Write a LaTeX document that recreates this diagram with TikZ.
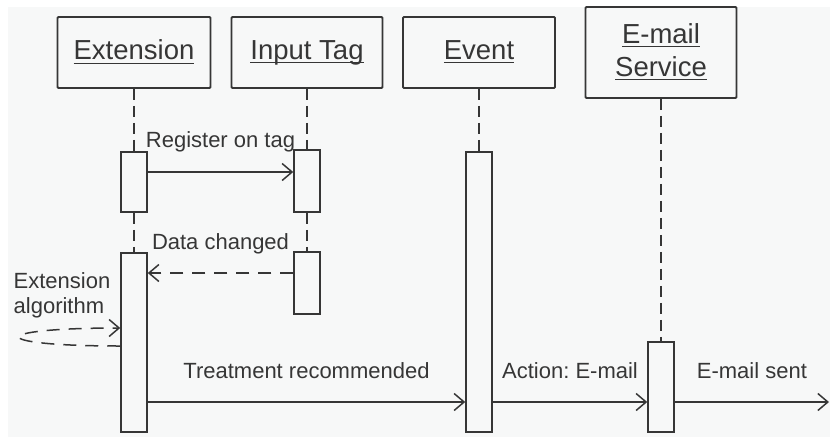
\documentclass[tikz,border=0pt]{standalone}
\usepackage{amsmath}
\usepackage{fontspec}
\setmainfont{Liberation Sans}
\usepackage{xcolor}
\usetikzlibrary{arrows.meta,calc}
\definecolor{ink}{HTML}{363636}
\definecolor{paper}{HTML}{F7F8F8}
\newcommand{\ulname}[1]{\underline{\smash[b]{#1}}}
\frenchspacing

\begin{document}
\begin{tikzpicture}[x=1pt,y=-1pt,
  every node/.style={text=ink},
  obj/.style={draw=ink,line width=1.8pt,rounded corners=1pt,minimum height=71pt,font=\fontsize{27.5}{33}\selectfont,align=center},
  bar/.style={draw=ink,line width=1.5pt,fill=paper,minimum width=26pt,inner sep=0pt},
  life/.style={ink,line width=1.8pt,dash pattern=on 11pt off 6pt},
  msg/.style={ink,line width=1.5pt,-{Straight Barb[length=10pt,width=17pt]}},
  reply/.style={msg,dash pattern=on 13pt off 9pt},
  lbl/.style={font=\fontsize{22}{25}\selectfont}]
\useasboundingbox (0,0) rectangle (830,437);
\fill[paper] (8,7) rectangle (830,437);
%----------------objects----------
\node[obj,minimum width=153pt] (ext) at (134,52.5) {\ulname{Extension}};
\node[obj,minimum width=151pt] (tag) at (307,52.5) {\ulname{Input Tag}};
\node[obj,minimum width=152pt] (evt) at (479,52.5) {\ulname{Event}};
\node[obj,minimum width=151pt,minimum height=91pt] (mail) at (661,52.5) {\ulname{E-mail}\\\ulname{Service}};
%----------------activations----------
\node[bar,minimum height=60pt] (extA) at (134,182) {};
\node[bar,minimum height=179pt] (extB) at (134,342.5) {};
\node[bar,minimum height=62pt] (tagA) at (307,181) {};
\node[bar,minimum height=62pt] (tagB) at (307,283) {};
\node[bar,minimum height=280pt] (evtA) at (479,292) {};
\node[bar,minimum height=90pt] (mailA) at (661,387) {};
%----------------lifelines----------
\draw[life] (ext)--(extA) (extA)--(extB);
\draw[life] (tag)--(tagA) (tagA)--(tagB);
\draw[life] (evt)--(evtA);
\draw[life] (mail)--(mailA);
%----------------messages----------
\coordinate (reg) at ([yshift=10pt]extA.east);
\draw[msg] (reg)--node[lbl,midway,above=16pt]{Register on tag}(reg -| tagA.west);
\coordinate (chg) at ([yshift=10pt]tagB.west);
\draw[reply] (chg)--node[lbl,midway,above=15pt]{Data changed}(chg -| extB.east);
\node[lbl,align=left] (algo) at (62,295) {Extension\\algorithm};
\draw[reply] ([yshift=-3.5pt]extB.west) .. controls +(-135,0) and +(-135,0) .. ([yshift=14.5pt]extB.west);
\coordinate (trt) at ([yshift=-59.5pt]extB.east);
\draw[msg] (trt)--node[lbl,midway,above=19pt]{Treatment recommended}(trt -| evtA.west);
\coordinate (act) at (trt -| evtA.east);
\draw[msg] (act)--node[lbl,midway,above=19pt]{Action: E-mail}(act -| mailA.west);
\coordinate (sent) at (829,402);
\draw[msg] (act -| mailA.east)--node[lbl,midway,above=19pt]{E-mail sent}(sent);
\end{tikzpicture}
\end{document}
